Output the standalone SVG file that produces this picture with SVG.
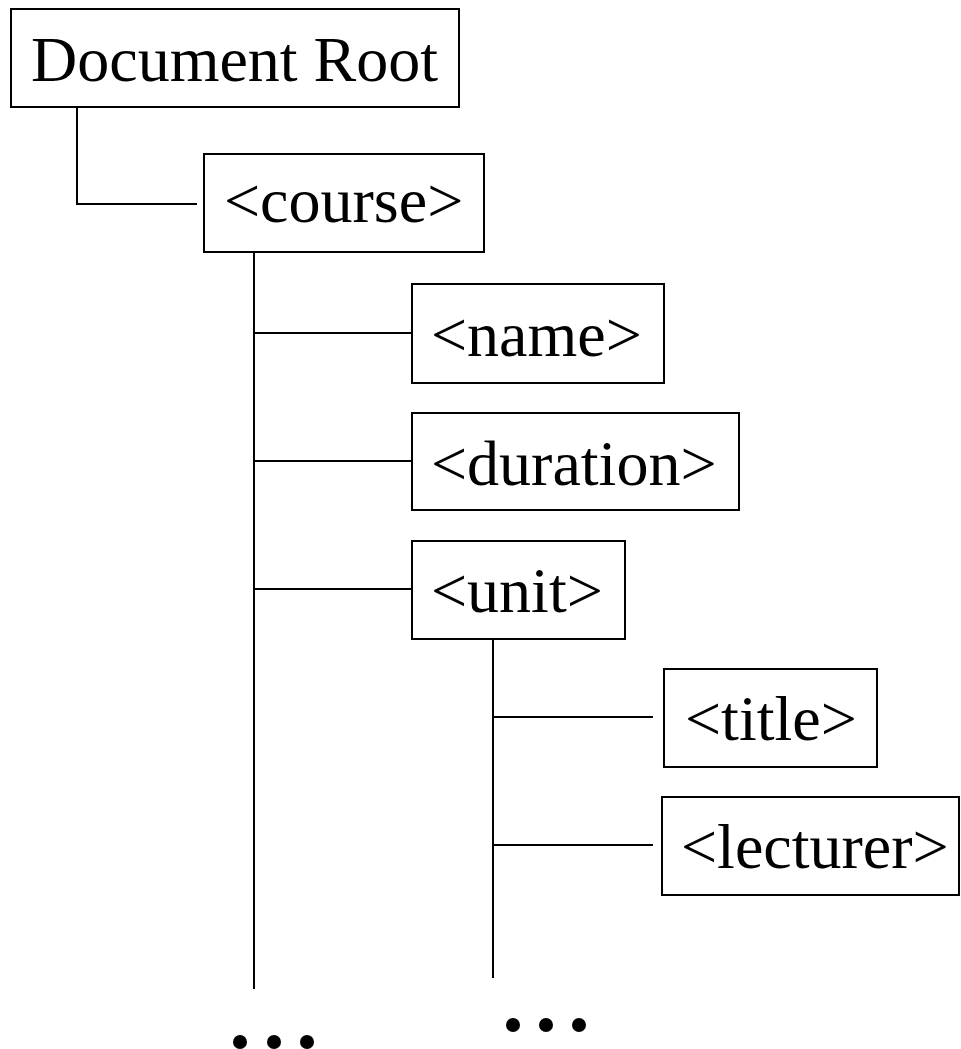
<svg xmlns="http://www.w3.org/2000/svg" width="961" height="1049" viewBox="0 0 961 1049">
<style>
.box{fill:#fff;stroke:#000;stroke-width:2}
.lbl{font-family:"Liberation Serif","Times New Roman",serif;font-size:64px;fill:#000}
.conn{fill:none;stroke:#000;stroke-width:2}
.dot{fill:#000}
</style>
<rect width="961" height="1049" fill="#fff"/>
<g id="connectors">
<polyline class="conn" points="77,107 77,204 197,204"/>
<line class="conn" x1="254" y1="252" x2="254" y2="989"/>
<line class="conn" x1="254" y1="333" x2="412" y2="333"/>
<line class="conn" x1="254" y1="461" x2="412" y2="461"/>
<line class="conn" x1="254" y1="589" x2="412" y2="589"/>
<line class="conn" x1="493" y1="637" x2="493" y2="978"/>
<line class="conn" x1="493" y1="717" x2="653" y2="717"/>
<line class="conn" x1="493" y1="845" x2="653" y2="845"/>
</g>
<g id="root"><rect class="box" x="11" y="9" width="448" height="98"/><text class="lbl" x="31" y="81">Document Root</text></g>
<g id="course"><rect class="box" x="204" y="154" width="280" height="98"/><text class="lbl" x="224" y="222">&lt;course&gt;</text></g>
<g id="name"><rect class="box" x="412" y="284" width="252" height="99"/><text class="lbl" x="431" y="356">&lt;name&gt;</text></g>
<g id="duration"><rect class="box" x="412" y="413" width="327" height="97"/><text class="lbl" x="431" y="485">&lt;duration&gt;</text></g>
<g id="unit"><rect class="box" x="412" y="541" width="213" height="98"/><text class="lbl" x="431" y="612">&lt;unit&gt;</text></g>
<g id="title"><rect class="box" x="664" y="669" width="213" height="98"/><text class="lbl" x="685" y="740">&lt;title&gt;</text></g>
<g id="lecturer"><rect class="box" x="662" y="797" width="297" height="98"/><text class="lbl" x="681" y="868">&lt;lecturer&gt;</text></g>
<g id="more-course">
<circle class="dot" cx="240" cy="1042" r="7"/><circle class="dot" cx="274" cy="1042" r="7"/><circle class="dot" cx="307" cy="1042" r="7"/>
</g>
<g id="more-unit">
<circle class="dot" cx="513" cy="1025" r="7"/><circle class="dot" cx="546" cy="1025" r="7"/><circle class="dot" cx="579" cy="1025" r="7"/>
</g>
</svg>
